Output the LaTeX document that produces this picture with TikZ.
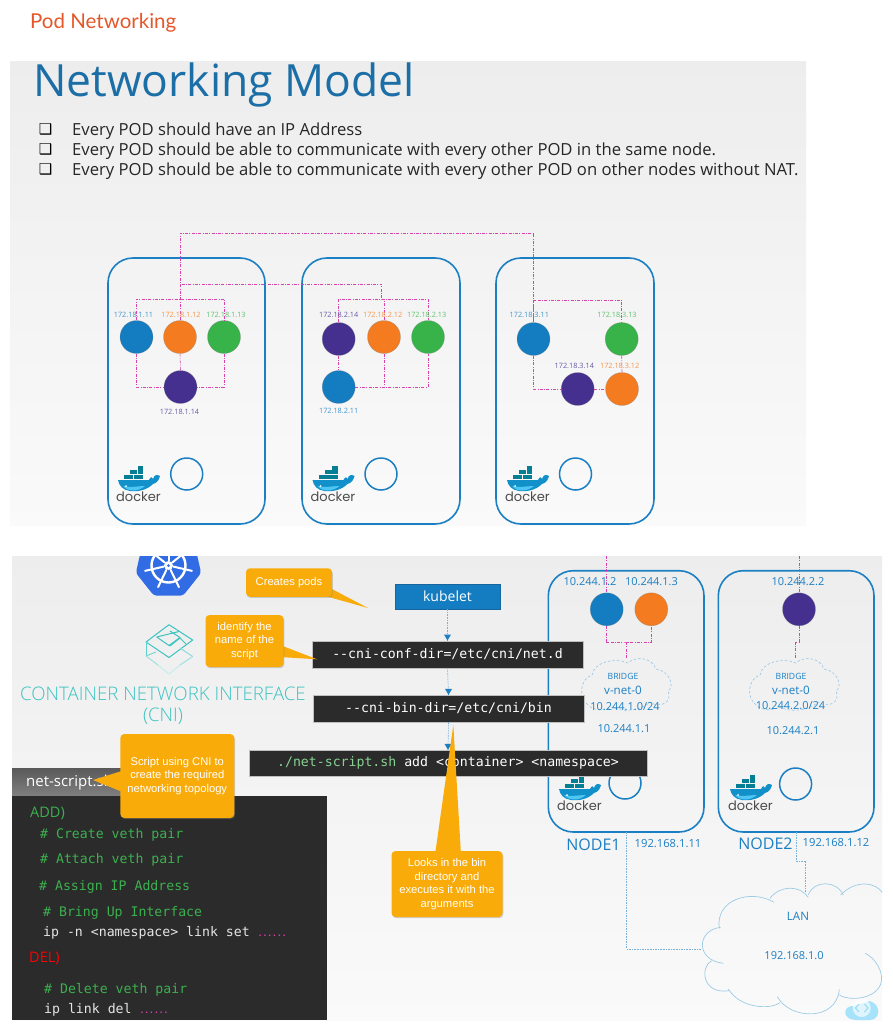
\documentclass[tikz,border=0pt]{standalone}
\usepackage{fontspec}
\setmainfont{Open Sans}
\newfontfamily\monof{DejaVu Sans Mono}
\newfontfamily\arialf{Liberation Sans}
\newfontfamily\dejaf{DejaVu Sans}
\newfontfamily\popf{Poppins}
\newfontfamily\handf{Lato}
\newfontfamily\lightf{Open Sans Light}
\usetikzlibrary{shadows,calc}
\definecolor{nodeblue}{HTML}{1B7FC4}
\definecolor{podblue}{HTML}{147CC0}
\definecolor{podorange}{HTML}{F47B20}
\definecolor{podgreen}{HTML}{37B34A}
\definecolor{podpurple}{HTML}{46308F}
\definecolor{linkpink}{HTML}{D942AE}
\definecolor{calloutc}{HTML}{F9AB0A}
\definecolor{codebg}{HTML}{2B2B2B}
\definecolor{codegreen}{HTML}{3CB04F}
\definecolor{titleblue}{HTML}{1C6FA6}
\definecolor{cnic}{HTML}{3CC3C0}
\definecolor{cloudc}{HTML}{9CCBE6}
\definecolor{k8sblue}{HTML}{326CE5}
\definecolor{handc}{HTML}{E5572B}
\newcommand{\fs}[1]{\fontsize{#1}{#1}\selectfont}
\tikzset{
  x=1pt,y=-1pt,
  nodebox/.style={draw=nodeblue,line width=1.6pt,rounded corners=25pt},
  pod/.style={circle,minimum size=33pt,inner sep=0pt,draw=black!50,draw opacity=.4,line width=.5pt},
  engine/.style={circle,minimum size=32pt,inner sep=0pt,draw=nodeblue,line width=1.5pt},
  link/.style={draw=linkpink,line width=.55pt,dash pattern=on 3pt off 1.3pt on 1pt off 1.3pt},
  lan/.style={draw=nodeblue!60,line width=.6pt,dash pattern=on 1.6pt off 1pt},
  ip/.style={font=\fs{7.3},inner sep=0pt},
  bip/.style={font=\fs{11},text=nodeblue,inner sep=0pt,yshift=-.8pt},
  cmd/.style={fill=codebg,draw=black!25,line width=.3pt,text=white,font=\monof\fs{13.2},inner sep=0pt},
  callout/.style={fill=calloutc,rounded corners=4pt,text=white,font=\arialf\fs{11.2},align=center,inner sep=0pt,
     drop shadow={opacity=.35,shadow xshift=.8pt,shadow yshift=-1.2pt}},
  codetext/.style={font=\monof\fs{13.2},text=codegreen,anchor=west,inner sep=0pt,yshift=-1.5pt},
  codewhite/.style={font=\monof\fs{13.2},text=white!90!black,anchor=west,inner sep=0pt,yshift=-1.5pt},
  flow/.style={draw=nodeblue!60,line width=.6pt,dash pattern=on 1.6pt off 1pt},
  bullet/.style={font=\fs{16.65},text=black!85,anchor=west,inner sep=0pt},
  whale/.pic={
    \fill[podblue!85!cyan] (0,14) -- (31,14) .. controls (33,11) and (33,10) .. (35,13)
       .. controls (36,9) and (39,8) .. (42,10) .. controls (41,14) and (39,17) .. (35,18)
       .. controls (29,24) and (20,26) .. (12,25) .. controls (5,24) and (1,20) .. (0,14) -- cycle;
    \fill[cyan!70!white] (5,20) .. controls (12,22) and (20,20) .. (27,20) .. controls (20,26) and (10,26) .. (5,20) -- cycle;
    \fill[white] (8,20) circle (1pt);
    \fill[teal!70!podblue] (6,8.5) rectangle (15,13.2);
    \fill[teal!70!podblue] (15.5,8.5) rectangle (25,13.2);
    \fill[teal!70!podblue] (12,3.5) rectangle (19,8);
    \fill[teal!70!podblue] (19.5,0) rectangle (25,8);
    \node[font=\popf\fs{13},text=black!70,inner sep=0pt] (-t) at (20.5,31) {docker};
  },
  bcloud/.pic={
    \draw[draw=nodeblue!45,line width=.6pt,dash pattern=on 2.5pt off 2pt]
      (8,48) .. controls (-2,40) and (0,22) .. (12,18) .. controls (14,5) and (35,0) .. (48,6)
      .. controls (55,-1) and (72,0) .. (76,12) .. controls (90,14) and (95,30) .. (88,34)
      .. controls (93,45) and (80,52) .. (70,45) .. controls (60,55) and (40,55) .. (32,50)
      .. controls (25,54) and (14,54) .. (8,48);
  }
}
\begin{document}
\begin{tikzpicture}
\useasboundingbox (0,0) rectangle (892,1030);
\fill[white] (0,0) rectangle (892,1030);
% panels
\shade[top color=black!7,bottom color=black!2] (10,62) rectangle (806,525);
\shade[top color=black!7,bottom color=black!2] (12,556) rectangle (882,1020);

\node[font=\handf\fs{20.5},text=handc,anchor=west,inner sep=0pt] (pagetitle) at (30,23) {Pod Networking};
\node[font=\fs{44.4},text=titleblue,anchor=west,inner sep=0pt] (title) at (33,85) {Networking Model};
\foreach \y/\t/\n in {129/Every POD should have an IP Address/b1,
  149/Every POD should be able to communicate with every other POD in the same node./b2,
  169/Every POD should be able to communicate with every other POD on other nodes without NAT./b3}{
  \node[font=\dejaf\fs{15},text=black,inner sep=0pt] (chk\n) at (45.5,\y) {❑};
  \node[bullet] (t\n) at (72,\y+2.5) {\t};
}

% top node boxes
\draw[nodebox] (108,258) rectangle (265,524);
\draw[nodebox] (302,258) rectangle (460,524);
\draw[nodebox] (496,258) rectangle (654,524);

% pods
\node[pod,fill=podblue] (a1) at (136.5,337) {};
\node[pod,fill=podorange] (a2) at (180,337) {};
\node[pod,fill=podgreen] (a3) at (224,337) {};
\node[pod,fill=podpurple] (a4) at (180.5,387) {};
\node[pod,fill=podpurple] (b4) at (338.7,339) {};
\node[pod,fill=podorange] (b2) at (384,337) {};
\node[pod,fill=podgreen] (b3) at (428,337) {};
\node[pod,fill=podblue] (b1) at (338.7,387) {};
\node[pod,fill=podblue] (c1) at (533.5,339) {};
\node[pod,fill=podgreen] (c3) at (621.7,339) {};
\node[pod,fill=podpurple] (c4) at (577.7,389) {};
\node[pod,fill=podorange] (c2) at (622,389) {};

\coordinate (t1) at (180,233);
\coordinate (t2) at (181.7,284);
\coordinate (t3) at (381.7,284);
\coordinate (t4) at (381.7,299);
\coordinate (ay) at (180,299);
\coordinate (cy) at (533.5,300);
\draw[link] (a2.north) -- (t1) -| (c1.north);
\draw[link] (t2) -- (t3) -- (t4);
\draw[link] (a1.north) |- (ay) -| (a3.north);
\draw[link] (a1.south) |- (a4.west);
\draw[link] (a2.south) -- (a4.north);
\draw[link] (a3.south) |- (a4.east);
\draw[link] (b4.north) |- (t4) -| (b3.north);
\draw[link] (t4) -| (b2.north);
\draw[link] (b4.south) -- (b1.north);
\draw[link] (b1.east) -| (b3.south);
\draw[link] (b2.south) -- (b2.south |- b1.east);
\draw[link] (c1.north) |- (cy) -| (c3.north);
\draw[link] (c1.south) |- (c4.west);
\draw[link] (c4.east) -- (c2.west);
\draw[link] (c3.south) -- (c2.north);

% labels
\foreach \n/\c/\x/\y/\t in {
  la1/podblue/133.5/315/172.18.1.11, la2/podorange/181/315/172.18.1.12, la3/podgreen/226/315/172.18.1.13, la4/podpurple/179.5/411.7/172.18.1.14,
  lb4/podpurple/338.7/315/172.18.2.14, lb2/podorange/382.7/315/172.18.2.12, lb3/podgreen/426.7/315/172.18.2.13, lb1/podblue/338.7/411/172.18.2.11,
  lc1/podblue/529.3/315/172.18.3.11, lc3/podgreen/617/315/172.18.3.13, lc4/podpurple/574.3/366/172.18.3.14, lc2/podorange/619.7/366/172.18.3.12}{
  \node[ip,text=\c!80] (\n) at (\x,\y) {\t};
}
% docker + engine
\pic (w1) at (118,466) {whale};
\pic (w2) at (312.5,466) {whale};
\pic (w3) at (507,466) {whale};
\node[engine] (e1) at (186.7,474) {};
\node[engine] (e2) at (381,474) {};
\node[engine] (e3) at (575.5,474) {};

% ---- lower panel ----
% kubernetes logo
\begin{scope}
\clip (12,556) rectangle (300,620);
\coordinate (kc) at (168.5,565.5);
\fill[k8sblue,rounded corners=3pt]
  ($(kc)+(-90:33.5)$) -- ($(kc)+(-38.57:33.5)$) -- ($(kc)+(12.86:33.5)$)
  -- ($(kc)+(64.29:33.5)$) -- ($(kc)+(115.71:33.5)$) -- ($(kc)+(167.14:33.5)$)
  -- ($(kc)+(218.57:33.5)$) -- cycle;
\draw[white,line width=2.4pt] (kc) circle (17pt);
\foreach \a in {-90,-38.57,12.86,64.29,115.71,167.14,218.57}{
  \draw[white,line width=2pt,line cap=round] ($(kc)+(\a:5)$) -- ($(kc)+(\a:24)$);
}
\fill[white] (kc) circle (4.5pt);
\fill[k8sblue] (kc) circle (1.5pt);
\end{scope}
% CNI logo
\begin{scope}[line width=1pt,line join=round]
\draw[cnic] (169,624.7) -- (192.7,640) -- (169,657.5) -- (146,642) -- cycle;
\draw[cnic] (156.7,637) -- (179,631.5);
\draw[cnic] (156.7,637) -- (169,645.5) -- (180,637.5) -- (170,631);
\draw[cnic] (170,646) -- (180,638) -- (186,644);
\draw[cnic!80] (146,642) -- (146,656);
\draw[cnic!70] (146,656) -- (156,652) ;
\draw[cnic!50] (146,656) -- (158,665);
\draw[cnic!30] (158,665) -- (169,674) -- (180,665);
\draw[cnic!50] (180,665) -- (192.7,656.5);
\draw[cnic!60] (192.7,656.5) -- (180,648);
\end{scope}
\node[font=\lightf\fs{18.7},text=cnic,inner sep=0pt] (cnit1) at (163,693.5) {CONTAINER NETWORK INTERFACE};
\node[font=\lightf\fs{18.7},text=cnic,inner sep=0pt] (cnit2) at (163,716.5) {(CNI)};

% script tab + code
\shade[top color=black!65,bottom color=black!50] (12,768) rectangle (130,796);
\node[font=\fs{15},text=white,anchor=west,inner sep=0pt] (tab) at (26,783) {net-script.sh};
\node[fill=codebg,minimum width=315pt,minimum height=224pt,inner sep=0pt,anchor=north west] (code) at (12,796) {};
\node[font=\fs{14.5},text=codegreen,anchor=west,inner sep=0pt] (add) at (30,813) {ADD)};
\node[codetext] (l1) at (40,833) {\# Create veth pair};
\node[codetext] (l2) at (40,858) {\# Attach veth pair};
\node[codetext] (l3) at (39,885) {\# Assign IP Address};
\node[codetext] (l4) at (43,911) {\# Bring Up Interface};
\node[codewhite] (l5) at (43,931.5) {ip -n <namespace> link set \textcolor{linkpink}{\fs{8}\textbf{......}}};
\node[font=\fs{14.5},text=red,anchor=west,inner sep=0pt] (del) at (29,958.5) {DEL)};
\node[codetext] (l6) at (44,988) {\# Delete veth pair};
\node[codewhite] (l7) at (44,1008.5) {ip link del \textcolor{linkpink}{\fs{8}\textbf{......}}};

% right nodes
\draw[nodebox] (548.3,570.7) rectangle (704,832);
\draw[nodebox] (718.3,570.7) rectangle (874,832);
\node[pod,fill=podblue] (n1) at (606.7,609.3) {};
\node[pod,fill=podorange] (n2) at (651.3,609.3) {};
\node[pod,fill=podpurple] (n3) at (799,609.3) {};
\coordinate (top1) at (606.7,556);
\coordinate (top3) at (799,556);
\coordinate (j1) at (626.5,642);
\coordinate (br1) at (626.5,658);
\coordinate (j2a) at (799,642);
\coordinate (j2b) at (795,642);
\coordinate (br2) at (795,658);
\draw[link] (top1) -- (n1.north);
\draw[link] (top3) -- (n3.north);
\draw[link] (n1.south) |- (j1) -| (n2.south);
\draw[link] (j1) -- (br1);
\draw[link] (n3.south) -- (j2a) -- (j2b) -- (br2);
\node[bip] (ln1) at (590,580.7) {10.244.1.2};
\node[bip] (ln2) at (651.5,580.7) {10.244.1.3};
\node[bip] (ln3) at (798,580.5) {10.244.2.2};
\pic (bc1) at (580,657) {bcloud};
\pic (bc2) at (748,657) {bcloud};
\node[bip,font=\fs{8.6}] (br1t) at (623,676) {BRIDGE};
\node[bip,font=\fs{11.6}] (vn1) at (623,690) {v-net-0};
\node[bip] (sn1) at (625,706) {10.244.1.0/24};
\node[bip] (gw1) at (624,728) {10.244.1.1};
\node[bip,font=\fs{8.6}] (br2t) at (791,676) {BRIDGE};
\node[bip,font=\fs{11.6}] (vn2) at (791,690) {v-net-0};
\node[bip] (sn2) at (790.5,705) {10.244.2.0/24};
\node[bip] (gw2) at (793,730) {10.244.2.1};
\node[engine] (e4) at (625,783) {};
\node[engine] (e5) at (795.6,784) {};
\pic (w4) at (559,775) {whale};
\pic (w5) at (730,775) {whale};
\node[font=\fs{16},text=nodeblue,inner sep=0pt] (nd1) at (593.5,844.5) {NODE1};
\node[font=\fs{16},text=nodeblue,inner sep=0pt] (nd2) at (765.5,843.5) {NODE2};
\node[bip,font=\fs{11.2}] (ipn1) at (668,843) {192.168.1.11};
\node[bip,font=\fs{11.2}] (ipn2) at (836,842) {192.168.1.12};

% command flow
\node[fill=podblue,draw=nodeblue!80!black,line width=.3pt,text=white,font=\fs{14},minimum width=105pt,minimum height=25pt,inner sep=0pt] (kube) at (447.5,596.5) {\raisebox{-1.5pt}{kubelet}};
\node[cmd,minimum width=271pt,minimum height=27pt] (conf) at (447.5,654.2) {-{}-cni-conf-dir=/etc/cni/net.d};
\node[cmd,minimum width=271pt,minimum height=27pt] (bin) at (448.5,708.5) {-{}-cni-bin-dir=/etc/cni/bin};
\node[cmd,minimum width=398pt,minimum height=26pt] (run) at (448,763) {\textcolor{podgreen!60!white}{./net-script.sh} add <container> <namespace>};
\foreach \p/\q in {kube/conf,conf/bin,bin/run}{
  \draw[flow] (\p.south) -- (\q.north);
  \fill[nodeblue] ($(\q.north)+(-3.5,-6)$) -- ($(\q.north)+(3.5,-6)$) -- (\q.north) -- cycle;
}

% LAN cloud
\begin{scope}[shift={(600,820)},x=.3333pt,y=-.3333pt]
\draw[cloudc,line width=.7pt]
  (523,247) .. controls (450,205) and (345,240) .. (358,325);
\draw[cloudc,line width=.7pt]
  (362,322) .. controls (290,330) and (285,420) .. (370,430);
\draw[cloudc,line width=.7pt]
  (335,422) .. controls (300,440) and (305,525) .. (388,512);
\draw[cloudc,line width=.7pt]
  (385,507) .. controls (420,565) and (510,570) .. (540,548);
\draw[cloudc,line width=.7pt]
  (532,530) .. controls (570,600) and (710,605) .. (718,508);
\draw[cloudc,line width=.7pt]
  (718,525) .. controls (760,550) and (860,530) .. (843,460) .. controls (835,430) and (815,410) .. (796,400);
\draw[cloudc,line width=.7pt]
  (510,235) .. controls (540,195) and (600,195) .. (625,232);
\draw[cloudc,line width=.7pt]
  (625,225) .. controls (640,180) and (710,180) .. (730,225);
\draw[cloudc,line width=.7pt]
  (722,225) .. controls (770,175) and (830,190) .. (846,217);
\end{scope}
\coordinate (lanw) at (701,949);
\coordinate (lann) at (805.7,893);
\coordinate (nd1b) at (626.5,832);
\coordinate (nd2b) at (796.5,832);
\coordinate (nd2j) at (796.5,861);
\draw[lan] (nd1b) |- (lanw);
\draw[lan] (nd2b) -- (nd2j) -| (lann);
\node[bip,font=\fs{11.6}] (lant) at (798,916) {LAN};
\node[bip,font=\fs{11}] (lanip) at (794,955) {192.168.1.0};

% watermark
\fill[cyan!35] (856,1020) .. controls (842,1020) and (842,1005) .. (854,1006) -- (870,1001) .. controls (882,1005) and (880,1020) .. (870,1020) -- cycle;
\fill[white,opacity=.65] (861.7,1008) circle (9pt);
\draw[cyan!50,line width=.8pt] (859,1004) -- (855.5,1008) -- (859,1012);
\draw[cyan!50,line width=.8pt] (864.5,1004) -- (868,1008) -- (864.5,1012);

% callouts
\fill[calloutc] (318,594) -- (368,608) -- (330,588) -- cycle;
\node[callout,minimum width=86pt,minimum height=28.5pt] (cpods) at (289,582.5) {Creates pods};
\fill[calloutc] (280,645) -- (317,659.3) -- (280,657) -- cycle;
\node[callout,minimum width=78pt,minimum height=52pt] (cident) at (244.5,641) {identify the\\[2.2pt]name of the\\[2.2pt]script};
\fill[calloutc] (125,770) -- (93,780) -- (125,793) -- cycle;
\node[callout,minimum width=114pt,minimum height=84pt] (cscript) at (177.3,776) {Script using CNI to\\[2.2pt]create the required\\[2.2pt]networking topology};
\fill[calloutc] (435,855) -- (453.3,725) -- (461,855) -- cycle;
\node[callout,minimum width=111pt,minimum height=66pt] (clooks) at (447,884) {Looks in the bin\\[2.2pt]directory and\\[2.2pt]executes it with the\\[2.2pt]arguments};
\end{tikzpicture}
\end{document}
